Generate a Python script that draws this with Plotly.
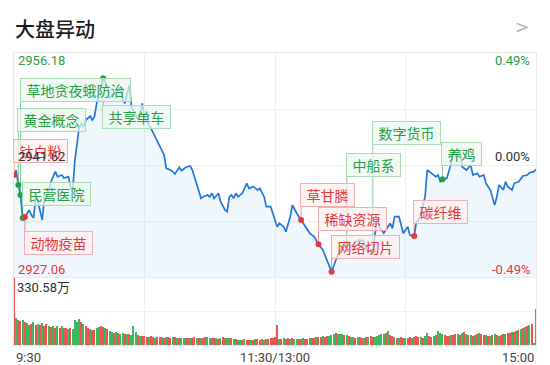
import plotly.graph_objects as go

W, H = 550, 365

# ---------------- data ----------------
price_minutes = [0, 1, 2, 3, 4, 5, 7, 8, 9, 10, 11, 13, 14, 15, 17, 19, 20, 22, 23, 25,
                 26, 27, 28, 30, 31, 32, 33, 35, 36, 37, 38, 40, 41, 43, 44, 46, 47, 49, 50, 51,
                 53, 54, 56, 57, 58, 59, 60, 63, 66, 69, 70, 72, 73, 74, 76, 77, 79, 81, 82, 84,
                 86, 87, 89, 90, 91, 92, 94, 95, 97, 98, 99, 100, 101, 102, 103, 105, 107, 108, 110, 112,
                 113, 115, 116, 118, 119, 121, 122, 124, 125, 127, 128, 130, 132, 134, 136, 138, 140, 142, 144, 146,
                 148, 150, 152, 153, 155, 157, 159, 161, 162, 164, 165, 166, 167, 168, 170, 171, 173, 174, 175, 177,
                 178, 179, 181, 182, 184, 185, 186, 187, 189, 190, 192, 194, 195, 196, 197, 199, 201, 202, 203, 205,
                 206, 208, 210, 211, 213, 214, 216, 217, 219, 221, 222, 223, 225, 226, 227, 229, 230, 232, 234, 236,
                 237, 239, 240]
price_values = [2940.32, 2940.97, 2939.02, 2937.72, 2934.73, 2934.85, 2935.77, 2935.12, 2934.73, 2937.50,
                2936.85, 2934.47, 2937.50, 2937.33, 2939.45, 2940.75, 2940.10, 2940.32, 2939.93, 2940.10,
                2938.80, 2938.37, 2942.27, 2946.60, 2947.04, 2946.60, 2947.47, 2947.99, 2947.47, 2947.90,
                2949.64, 2951.59, 2952.89, 2951.80, 2950.29, 2951.15, 2950.94, 2951.80, 2950.07, 2949.64,
                2952.02, 2949.20, 2948.12, 2947.47, 2948.34, 2949.64, 2947.90, 2946.39, 2944.65, 2942.92,
                2941.19, 2940.97, 2940.75, 2940.45, 2941.32, 2940.88, 2941.32, 2941.49, 2940.97, 2939.24,
                2937.29, 2937.50, 2937.72, 2937.50, 2937.94, 2937.29, 2937.94, 2936.85, 2935.77, 2935.55,
                2937.50, 2937.72, 2937.29, 2937.94, 2937.50, 2937.94, 2939.24, 2938.59, 2938.80, 2938.37,
                2938.59, 2937.50, 2936.20, 2936.20, 2935.34, 2933.60, 2934.04, 2933.60, 2932.95, 2934.90,
                2936.42, 2935.34, 2934.47, 2933.60, 2932.74, 2932.30, 2931.31, 2930.57, 2929.27, 2927.75,
                2929.27, 2930.57, 2931.22, 2931.44, 2931.00, 2931.65, 2931.87, 2931.65, 2930.57, 2930.35,
                2930.35, 2932.30, 2934.90, 2933.60, 2932.74, 2933.17, 2934.04, 2933.39, 2934.90, 2934.90,
                2933.60, 2932.74, 2933.60, 2932.52, 2932.39, 2934.25, 2934.47, 2935.12, 2937.50, 2940.97,
                2940.54, 2940.10, 2940.32, 2939.45, 2939.76, 2939.89, 2941.84, 2943.35, 2942.79, 2943.57,
                2941.40, 2940.97, 2941.62, 2940.32, 2940.54, 2940.10, 2940.32, 2939.24, 2938.37, 2936.42,
                2937.50, 2939.02, 2938.37, 2939.45, 2938.80, 2938.37, 2939.24, 2939.45, 2940.19, 2940.32,
                2940.62, 2940.75, 2941.06]

# volume (万手), one bar per minute 9:30 .. 15:00
volume = [330.58, 133, 122, 120, 124, 112, 108, 98, 104, 112,
          100, 106, 98, 110, 95, 102, 92, 88, 94, 86,
          92, 85, 96, 82, 86, 80, 84, 78, 124, 112,
          127, 115, 102, 92, 86, 80, 72, 76, 82, 88,
          92, 90, 86, 80, 70, 66, 60, 62, 58, 56,
          58, 54, 52, 56, 50, 96, 62, 48, 46, 44,
          42, 40, 38, 44, 40, 36, 38, 40, 39, 37,
          38, 40, 36, 38, 40, 37, 35, 36, 34, 35,
          33, 34, 36, 38, 35, 33, 36, 34, 38, 40,
          36, 34, 33, 35, 32, 36, 38, 34, 35, 37,
          33, 30, 28, 26, 27, 25, 28, 26, 27, 25,
          26, 28, 30, 27, 32, 26, 28, 30, 34, 36,
          38, 101, 30, 32, 34, 30, 33, 31, 34, 32,
          30, 29, 31, 33, 30, 32, 34, 36, 35, 38,
          40, 38, 42, 40, 44, 46, 50, 55, 58, 56,
          54, 52, 50, 48, 44, 40, 38, 36, 38, 40,
          37, 35, 38, 40, 42, 38, 40, 44, 48, 52,
          56, 60, 68, 48, 42, 38, 36, 35, 38, 36,
          34, 37, 40, 36, 38, 42, 40, 38, 36, 44,
          58, 46, 40, 42, 48, 70, 60, 52, 48, 46,
          44, 48, 50, 54, 52, 48, 58, 66, 56, 50,
          48, 46, 50, 54, 58, 52, 48, 50, 46, 44,
          48, 52, 50, 46, 48, 54, 56, 58, 60, 62,
          66, 70, 74, 80, 86, 90, 96, 100, 104, 5,
          178]
# r = up minute, g = down minute
vol_dir = ("rgrrgrggrg" "rgrgrrgrgr" "grgrrgrggg" "grgrrgrrgg" "rrgrggrgrg"
           "grgrgggrgr" "rrgrrgrrgr" "grrgrgrggr" "rgrrgrgrrg" "grrgrgrrgg"
           "rgrggrgrrg" "rgrrgrgrrr" "rrgrgrrgrg" "grrgrrgrrg" "rrgrrgggrg"
           "ggrgrggrgr" "rgrgrrgggg" "grgrrgrgrr" "grrgrrrgrg" "grrgrgggrr"
           "rgrrgrgrgr" "grgrgrrgrg" "rgrgrrgrrg" "rgrgrgrgrg" "g")

price_labels = ["2956.18", "2941.62", "2927.06"]
pct_labels = ["0.49%", "0.00%", "-0.49%"]
price_top, price_mid, price_bot = 2956.18, 2941.62, 2927.06
time_labels = ["9:30", "11:30/13:00", "15:00"]
time_ticks = [0, 120, 240]
vol_label = "330.58万"
vol_max = 330.58

event_names = ["钛白粉", "黄金概念", "草地贪夜蛾防治", "民营医院", "动物疫苗", "共享单车",
               "草甘膦", "稀缺资源", "网络切片", "中船系", "数字货币", "碳纤维", "养鸡"]
event_minutes = [0, 2, 3, 4, 5, 41, 132, 140, 146, 153, 165, 184, 197]
event_up = [False, True, True, True, False, True, False, False, False, True, True, False, True]

# layout: vertical pixel offset of each label box centre from its dot
label_shift = [24, 65, 105, 24, -26, -39, 25, 25, 25, 78, 119, 24, 25]

# ---------------- styling ----------------
GREEN = "#24a148"
RED = "#e5393d"
BLUE = "#2279d8"
GRID = "#f0f0f0"
BORDER = "#e9e9e9"
FONT_NUM = "Roboto, 'Noto Sans CJK SC', sans-serif"
FONT_CJK = "'Noto Sans CJK SC', 'Noto Sans', sans-serif"

def px_x(p):
    return p / W

def px_y(p):
    return 1 - p / H

x_dom = [px_x(14), px_x(536)]
y_main = [px_y(277), px_y(53)]
y_vol = [px_y(345), px_y(278)]

fig = go.Figure()

fig.add_trace(go.Scatter(
    x=price_minutes, y=price_values, mode="lines",
    line=dict(color=BLUE, width=1.7), fill="tozeroy",
    fillcolor="rgba(34,121,216,0.07)", xaxis="x", yaxis="y", hoverinfo="skip"))

lookup = dict(zip(price_minutes, price_values))
ev_prices = [lookup[m] for m in event_minutes]
ev_colors = [GREEN if u else RED for u in event_up]

vol_colors = ["#ef5455" if c == "r" else "#3cb95c" for c in vol_dir]
fig.add_trace(go.Bar(
    x=list(range(len(volume))), y=volume, marker=dict(color=vol_colors, line=dict(width=0)),
    width=0.6, xaxis="x2", yaxis="y2", hoverinfo="skip"))

shapes = []
annotations = []
for name, m, p, up, sh in zip(event_names, event_minutes, ev_prices, event_up, label_shift):
    c = GREEN if up else RED
    lc = "rgba(36,161,72,0.55)" if up else "rgba(229,57,61,0.55)"
    end = sh - 12 if sh > 0 else sh + 12
    shapes.append(dict(type="line", xref="x", yref="y", x0=m, x1=m,
                       ysizemode="pixel", yanchor=p, y0=0, y1=end,
                       line=dict(color=lc, width=1), layer="above"))
    annotations.append(dict(
        x=m, y=p, xref="x", yref="y", text=name, showarrow=False,
        xanchor="left", yanchor="middle", yshift=sh, xshift=-1,
        width=14 * len(name) + 9, height=20, align="center", valign="middle",
        bgcolor="rgba(234,247,237,0.72)" if up else "rgba(253,238,238,0.72)",
        bordercolor="#a9dbb4" if up else "#f0b0b2", borderwidth=1, borderpad=1,
        font=dict(family=FONT_CJK, size=14, color=c)))

fig.add_trace(go.Scatter(
    x=event_minutes, y=ev_prices, mode="markers",
    marker=dict(size=6, color=ev_colors, line=dict(width=0)),
    xaxis="x", yaxis="y", hoverinfo="skip"))

# price / percent labels
lab_y = [61, 156, 269]
lab_c = [GREEN, "#333333", RED]
for t, pc, yy, c in zip(price_labels, pct_labels, lab_y, lab_c):
    annotations.append(dict(x=px_x(16), y=px_y(yy), xref="paper", yref="paper", text=t,
                            showarrow=False, xanchor="left", yanchor="middle",
                            font=dict(family=FONT_NUM, size=13, color=c)))
    annotations.append(dict(x=px_x(532), y=px_y(yy), xref="paper", yref="paper", text=pc,
                            showarrow=False, xanchor="right", yanchor="middle",
                            font=dict(family=FONT_NUM, size=13, color=c)))

annotations.append(dict(x=px_x(15), y=px_y(287), xref="paper", yref="paper", text=vol_label,
                        showarrow=False, xanchor="left", yanchor="middle",
                        font=dict(family=FONT_NUM, size=13, color="#333333")))

anchors = ["left", "center", "right"]
for t, tk, a in zip(time_labels, time_ticks, anchors):
    annotations.append(dict(x=tk, y=px_y(357.5), xref="x2", yref="paper", text=t,
                            showarrow=False, xanchor=a, yanchor="middle",
                            font=dict(family=FONT_NUM, size=13, color="#444444")))

annotations.append(dict(x=px_x(13), y=px_y(28), xref="paper", yref="paper", text="大盘异动",
                        showarrow=False, xanchor="left", yanchor="middle",
                        font=dict(family=FONT_CJK, size=20, color="#1c1c1c", weight=500)))
annotations.append(dict(x=px_x(531), y=px_y(27), xref="paper", yref="paper", text="&gt;",
                        showarrow=False, xanchor="right", yanchor="middle",
                        font=dict(family="'DejaVu Sans', sans-serif", size=17, color="#b5b5b5")))

axis_common = dict(showline=True, mirror=True, linecolor=BORDER, linewidth=1,
                   zeroline=False, ticks="", showticklabels=False, fixedrange=True)

mid_q_hi = (price_top + price_mid) / 2
mid_q_lo = (price_bot + price_mid) / 2

fig.update_layout(
    width=W, height=H, margin=dict(l=0, r=0, t=0, b=0),
    paper_bgcolor="white", plot_bgcolor="white", showlegend=False,
    hovermode=False, bargap=0,
    xaxis=dict(domain=x_dom, range=[0, 240], anchor="y", tickvals=[60, 120, 180],
               showgrid=True, gridcolor=GRID, gridwidth=1, **axis_common),
    xaxis2=dict(domain=x_dom, range=[0, 240], anchor="y2", matches="x", tickvals=[60, 120, 180],
                showgrid=True, gridcolor=GRID, gridwidth=1, **axis_common),
    yaxis=dict(domain=y_main, range=[price_bot, price_top], anchor="x",
               tickvals=[mid_q_lo, price_mid, mid_q_hi], showgrid=True, gridcolor=GRID,
               gridwidth=1, **axis_common),
    yaxis2=dict(domain=y_vol, range=[0, vol_max], anchor="x2", tickvals=[vol_max / 2],
                showgrid=True, gridcolor=GRID, gridwidth=1, **axis_common),
    shapes=shapes, annotations=annotations,
)

fig.write_html("out.html", config={"displayModeBar": False},
               post_script="document.body.style.margin='0';document.body.style.overflow='hidden';")
